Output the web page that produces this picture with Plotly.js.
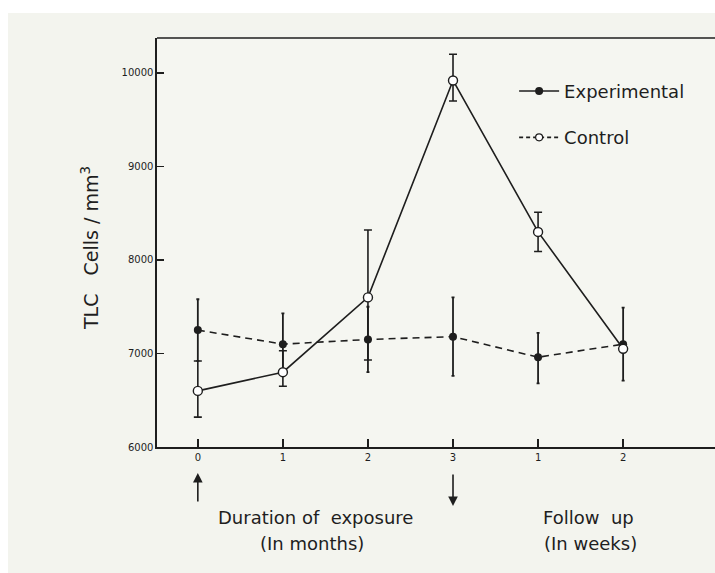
<!DOCTYPE html>
<html>
<head>
<meta charset="utf-8">
<script src="https://cdn.plot.ly/plotly-3.0.1.min.js"></script>
<style>html,body{margin:0;padding:0;background:#f3f4ee;}#chart{width:715px;height:573px;}</style>
</head>
<body>
<div id="chart"></div>
<script>
// Positions along the x axis: 0..3 months of exposure, then 1..2 weeks of follow-up
var xPos = [0, 1, 2, 3, 4, 5];
var tickLabels = ["0", "1", "2", "3", "1", "2"];

// Solid line (open circles)
var solidY     = [6600, 6800, 7600, 9920, 8300, 7050];
var solidErrHi = [320, 230, 720, 280, 210, 0];
var solidErrLo = [280, 150, 670, 220, 210, 0];

// Dashed line (filled circles)
var dashedY     = [7250, 7100, 7150, 7180, 6960, 7100];
var dashedErrHi = [330, 330, 350, 420, 260, 390];
var dashedErrLo = [330, 330, 350, 420, 280, 390];

var seriesNames = ["Experimental", "Control"];
var yTicks = [6000, 7000, 8000, 9000, 10000];
var yTickLabels = ["6000", "7000", "8000", "9000", "10000"];

var ink = "#1e1e1e";

var traces = [
  {
    x: xPos, y: dashedY, type: "scatter", mode: "lines+markers", showlegend: false,
    line: {color: ink, width: 1.6, dash: "7px,5px"},
    marker: {symbol: "circle", size: 8, color: ink},
    error_y: {type: "data", symmetric: false, array: dashedErrHi, arrayminus: dashedErrLo,
              color: ink, thickness: 1.8, width: 1.5}
  },
  {
    x: xPos, y: solidY, type: "scatter", mode: "lines+markers", showlegend: false,
    line: {color: ink, width: 1.6},
    marker: {symbol: "circle", size: 9, color: "#ffffff", line: {color: ink, width: 1.4}},
    error_y: {type: "data", symmetric: false, array: solidErrHi, arrayminus: solidErrLo,
              color: ink, thickness: 1.6, width: 4}
  },
  {
    x: [null], y: [null], type: "scatter", mode: "lines+markers", name: seriesNames[0],
    legendgroup: "a",
    line: {color: ink, width: 1.6},
    marker: {symbol: "circle", size: 8, color: ink}
  },
  {
    x: [null], y: [null], type: "scatter", mode: "lines+markers", name: seriesNames[1],
    legendgroup: "b",
    line: {color: ink, width: 1.6, dash: "4px,3px"},
    marker: {symbol: "circle", size: 7, color: "#ffffff", line: {color: ink, width: 1.2}}
  }
];

var font = "DejaVu Sans, sans-serif";
var textFont = {family: font, size: 18, color: ink};

function note(px, py, text) {
  return {xref: "paper", yref: "paper", x: (px - 157) / 558, y: (447 - py) / 409,
          xanchor: "center", yanchor: "middle", text: text, showarrow: false, font: textFont};
}

var layout = {
  width: 715, height: 573,
  margin: {l: 157, r: 0, t: 38, b: 126},
  paper_bgcolor: "#f3f4ee",
  plot_bgcolor: "#f5f6f1",
  font: {family: font, color: ink},
  xaxis: {
    range: [-0.48, 6.08], tickvals: xPos, ticktext: tickLabels,
    ticks: "inside", ticklen: 8, tickwidth: 1.5, tickcolor: ink,
    showgrid: false, zeroline: false, showline: true, linecolor: ink, linewidth: 1.6,
    mirror: false, tickfont: {family: font, size: 10, color: ink},
    fixedrange: true
  },
  yaxis: {
    range: [6000, 10374], tickvals: yTicks, ticktext: yTickLabels,
    ticks: "inside", ticklen: 7, tickwidth: 1.5, tickcolor: ink,
    showgrid: false, zeroline: false, showline: true, linecolor: ink, linewidth: 1.6,
    tickfont: {family: font, size: 10, color: ink},
    fixedrange: true
  },
  showlegend: true,
  legend: {
    x: 0.64, y: 0.915, xanchor: "left", yanchor: "top",
    bgcolor: "rgba(0,0,0,0)", tracegroupgap: 20,
    font: textFont, itemwidth: 40
  },
  shapes: [
    {type: "line", xref: "paper", yref: "paper", x0: 0, x1: 1, y0: 1, y1: 1,
     line: {color: ink, width: 1.6}},
    {type: "rect", xref: "paper", yref: "paper", x0: -0.29, x1: 1.01, y0: 1.061, y1: 1.1,
     line: {width: 0}, fillcolor: "#ffffff"},
    {type: "rect", xref: "paper", yref: "paper", x0: -0.29, x1: -0.267, y0: -0.32, y1: 1.1,
     line: {width: 0}, fillcolor: "#ffffff"}
  ],
  annotations: [
    {xref: "paper", yref: "paper", x: (90 - 157) / 558, y: (447 - 248) / 409,
     xanchor: "center", yanchor: "middle", text: "TLC   Cells / mm<sup>3</sup>",
     textangle: -90, showarrow: false, font: {family: font, size: 19, color: ink}},
    note(315, 517, "Duration of  exposure"),
    note(312, 543, "(In months)"),
    note(588, 517, "Follow  up"),
    note(590, 543, "(In weeks)"),
    {xref: "x", yref: "paper", x: 0, y: (447 - 473) / 409, text: "", showarrow: true,
     axref: "pixel", ayref: "pixel", ax: 0, ay: 30, arrowhead: 2, arrowsize: 1.2, arrowwidth: 1.6, arrowcolor: ink},
    {xref: "x", yref: "paper", x: 3, y: (447 - 506) / 409, text: "", showarrow: true,
     axref: "pixel", ayref: "pixel", ax: 0, ay: -33, arrowhead: 2, arrowsize: 1.2, arrowwidth: 1.6, arrowcolor: ink}
  ]
};

Plotly.newPlot("chart", traces, layout, {displayModeBar: false, staticPlot: true});
</script>
</body>
</html>
